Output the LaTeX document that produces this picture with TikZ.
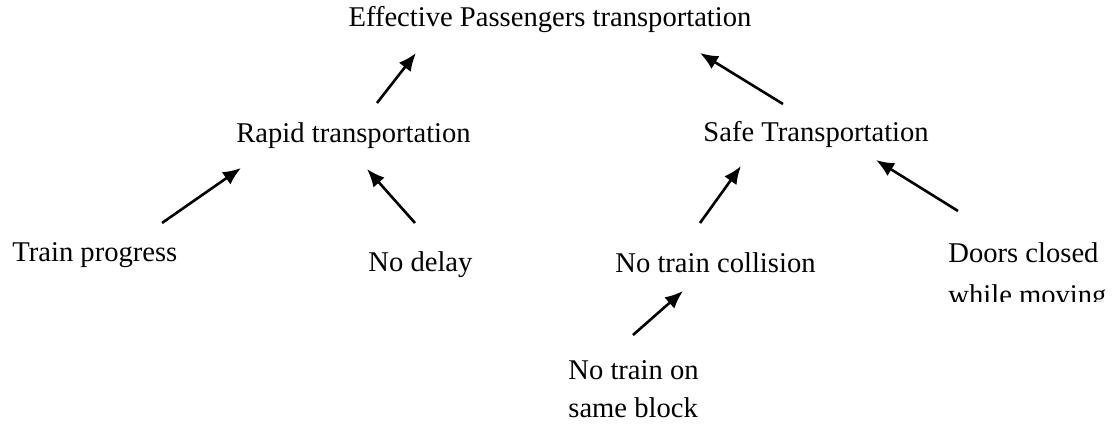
\documentclass[tikz,border=0pt]{standalone}
\usepackage{fontspec}
\setmainfont{Liberation Serif}
\usetikzlibrary{positioning,arrows.meta}
\tikzset{
    goal/.style = {
        shape=rectangle,
        inner sep=0pt,
        anchor=base west,
        font=\fontsize{14.3}{21}\selectfont
    },
    subgoal/.style = {
        goal,
        anchor=north west,
        align=left
    },
    link/.style = {
        draw,
        line width=1.3pt
    },
    >={Latex[length=9pt,width=7.5pt]},
}
\begin{document}
\begin{tikzpicture}[x=0.5pt,y=-0.5pt]
                \useasboundingbox (0,0) rectangle (1112,426);
                \node[goal, anchor=base] (effective) at (550,27) {Effective Passengers transportation};
                \node[goal] (rapid) at (236,143) {Rapid transportation};
                \node[goal] (safe) at (703,142) {Safe Transportation};
                \node[goal] (progress) at (12,262) {Train progress};
                \node[goal] (delay) at (368,272) {No delay};
                \node[goal] (collision) at (615,273) {No train collision};
                \node[subgoal] (block) at (568,360) {No train on\\[-2pt] same block};
                \begin{scope}
                    \clip (900,0) rectangle (1112,302);
                    \node[subgoal] (doors) at (948,242) {Doors closed\\ while moving};
                \end{scope}

                % free ends of the arrows
                \coordinate (rapid-t) at (377,103);
                \coordinate (effective-l) at (416,53);
                \coordinate (safe-t) at (783,104);
                \coordinate (effective-r) at (700,53);
                \coordinate (progress-t) at (162,223);
                \coordinate (rapid-l) at (241,168);
                \coordinate (delay-t) at (415,223);
                \coordinate (rapid-r) at (367,169);
                \coordinate (collision-t) at (700,223);
                \coordinate (safe-l) at (741,166);
                \coordinate (doors-t) at (958,211);
                \coordinate (safe-r) at (876,160);
                \coordinate (block-t) at (633,335);
                \coordinate (collision-b) at (683,291);

                \path[link, ->] (rapid-t) -- (effective-l);
                \path[link, ->] (safe-t) -- (effective-r);
                \path[link, ->] (progress-t) -- (rapid-l);
                \path[link, ->] (delay-t) -- (rapid-r);
                \path[link, ->] (collision-t) -- (safe-l);
                \path[link, ->] (doors-t) -- (safe-r);
                \path[link, ->] (block-t) -- (collision-b);
            \end{tikzpicture}
\end{document}
